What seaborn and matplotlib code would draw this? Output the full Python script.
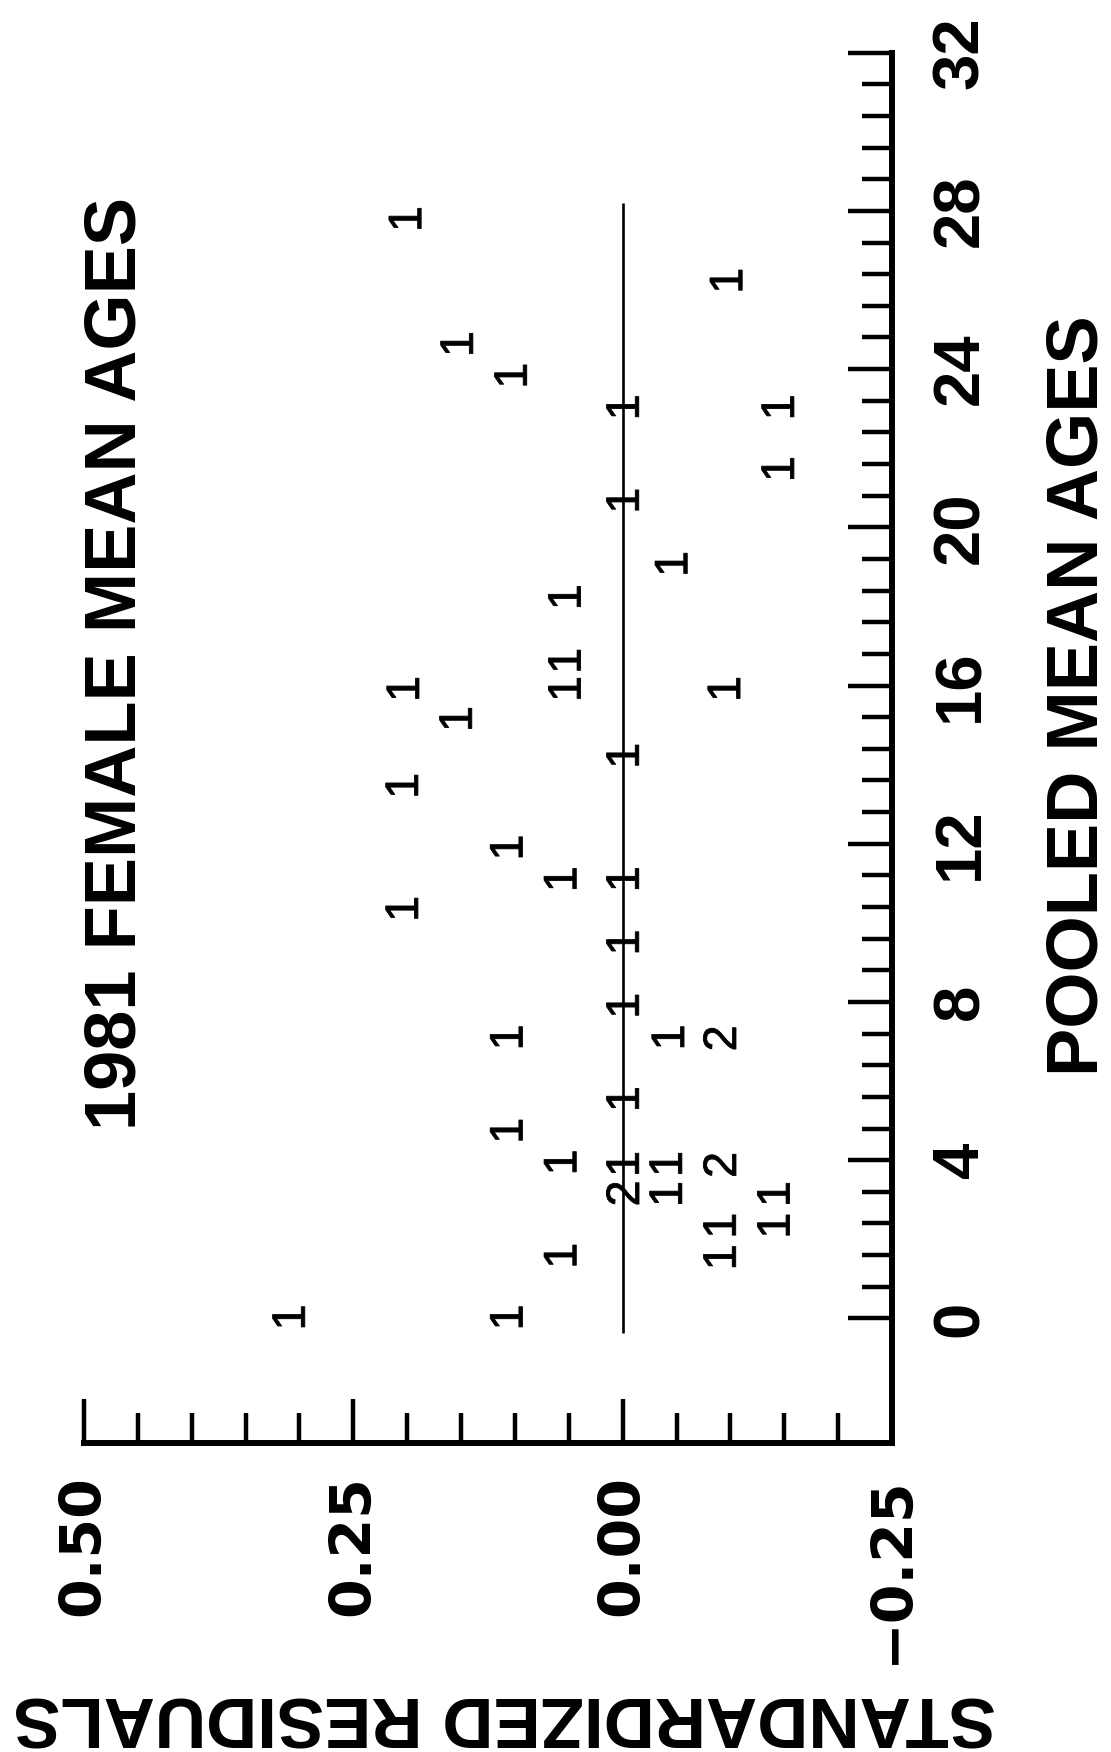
import numpy as np
import pandas as pd
import matplotlib
matplotlib.use("Agg")
import matplotlib.pyplot as plt
import seaborn as sns
from matplotlib.textpath import TextPath
from matplotlib.font_manager import FontProperties
from matplotlib.markers import MarkerStyle
from matplotlib.transforms import Affine2D
from matplotlib.path import Path

# ---------------- data ----------------
resid = [0.31, 0.108, 0.058, -0.09, -0.09, -0.14, -0.14, 0.0, -0.04, -0.04,
         0.0, 0.058, -0.09, 0.108, 0.0, 0.108, -0.042, -0.09, 0.0, 0.0,
         0.205, 0.0, 0.058, 0.108, 0.205, 0.0, 0.155, 0.204, -0.094, 0.054,
         0.054, 0.054, -0.045, 0.0, -0.144, 0.0, -0.144, 0.104, 0.154, -0.096,
         0.202]
age = [0.04, 0.04, 1.60, 1.56, 2.36, 2.36, 3.16, 3.16, 3.16, 3.92,
       3.92, 3.96, 3.88, 4.76, 5.56, 7.12, 7.12, 7.08, 7.92, 9.52,
       10.37, 11.12, 11.12, 11.92, 13.48, 14.24, 15.17, 15.93, 15.93, 15.93,
       16.64, 18.25, 19.09, 20.69, 21.49, 23.05, 23.05, 23.85, 24.65, 26.25,
       27.81]
count = [1, 1, 1, 1, 1, 1, 1, 2, 1, 1,
         1, 1, 2, 1, 1, 1, 1, 2, 1, 1,
         1, 1, 1, 1, 1, 1, 1, 1, 1, 1,
         1, 1, 1, 1, 1, 1, 1, 1, 1, 1,
         1]

zero_line_resid = [0.0, 0.0]
zero_line_age = [-0.36, 28.2]

resid_ticks = [0.50, 0.25, 0.00, -0.25]
resid_tick_labels = ["0.50", "0.25", "0.00", "\u22120.25"]
age_ticks = [0, 4, 8, 12, 16, 20, 24, 28, 32]
age_tick_labels = ["0", "4", "8", "12", "16", "20", "24", "28", "32"]

title_text = "1981 FEMALE MEAN AGES"
age_axis_label = "POOLED MEAN AGES"
resid_axis_label = "STANDARDIZED RESIDUALS"

# ---------------- styling ----------------
sns.set_theme(style="white")
plt.rcParams["font.family"] = ["Liberation Sans", "DejaVu Sans"]

W, H = 1111, 1752
fig = plt.figure(figsize=(W / 100, H / 100), dpi=100)
fig.patch.set_facecolor("white")

x_left, x_right = 84, 892          # pixel x of resid 0.50 and -0.25
y_top, y_bot = 52.7, 1443          # pixel y of age 32 and bottom spine
ax = fig.add_axes([x_left / W, 1 - y_bot / H, (x_right - x_left) / W, (y_bot - y_top) / H])
ax.set_facecolor("white")


def glyph_marker(ch):
    fp = FontProperties(family="Liberation Sans")
    tp = TextPath((0, 0), ch, size=1, prop=fp)
    tp = tp.transformed(Affine2D().rotate_deg(90))
    ext = tp.get_extents()
    tp = tp.transformed(Affine2D().translate(-(ext.x0 + ext.x1) / 2, -(ext.y0 + ext.y1) / 2))
    # invisible anchor vertex so all glyphs share the same normalisation
    verts = np.vstack([[[0.5, 0.0]], tp.vertices])
    codes = np.concatenate([[Path.MOVETO], tp.codes])
    return MarkerStyle(Path(verts, codes))


df = pd.DataFrame({"resid": resid, "age": age, "count": [str(c) for c in count]})

ax.plot(zero_line_resid, zero_line_age, color="black", lw=1.9, solid_capstyle="butt", zorder=2)

sns.scatterplot(data=df, x="resid", y="age", style="count",
                markers={"1": glyph_marker("1"), "2": glyph_marker("2")},
                s=1136, color="black", edgecolor="black", linewidth=0.6,
                legend=False, ax=ax, zorder=3)

ax.set_xlim(0.5, -0.25)
ax.set_ylim(-3.15, 32)
ax.set_xlabel("")
ax.set_ylabel("")
ax.grid(False)

for side in ["top", "left"]:
    ax.spines[side].set_visible(False)
for side in ["bottom", "right"]:
    ax.spines[side].set_linewidth(4.3)
    ax.spines[side].set_color("black")
    ax.spines[side].set_capstyle("projecting")

# residual axis (bottom)
ax.set_xticks(resid_ticks, labels=resid_tick_labels)
minor_r = [v for v in np.round(np.arange(-0.25, 0.5001, 0.05), 2) if v not in resid_ticks]
ax.set_xticks(minor_r, minor=True)
ax.tick_params(axis="x", which="both", direction="in", bottom=True, top=False,
               width=3.2, color="black")
ax.tick_params(axis="x", which="major", length=32, pad=23, labelsize=41,
               labelrotation=90, labelcolor="black")
ax.tick_params(axis="x", which="minor", length=21.5)
for lab in ax.get_xticklabels():
    lab.set_family(["DejaVu Sans"])
    lab.set_fontweight("bold")

# age axis (right)
ax.yaxis.tick_right()
ax.set_yticks(age_ticks, labels=age_tick_labels)
minor_a = [v for v in np.round(np.arange(0, 32.001, 0.8), 2) if v not in age_ticks]
ax.set_yticks(minor_a, minor=True)
ax.tick_params(axis="y", which="both", direction="in", left=False, right=True,
               width=3.2, color="black")
ax.tick_params(axis="y", which="major", length=32, pad=28, labelsize=47,
               labelrotation=90, labelcolor="black")
ax.tick_params(axis="y", which="minor", length=21.5)
for lab in ax.get_yticklabels():
    lab.set_family(["Liberation Sans"])
    lab.set_fontweight("bold")
    lab.set_va("center")

# titles
fig.text(117 / W, 1 - 663 / H, title_text, rotation=90, ha="center", va="center",
         fontsize=52, fontweight="bold", family=["Liberation Sans"], color="black")
fig.text(1078 / W, 1 - 696 / H, age_axis_label, rotation=90, ha="center", va="center",
         fontsize=52, fontweight="bold", family=["Liberation Sans"], color="black")
fig.text(505 / W, 1 - 1714 / H, resid_axis_label, rotation=180, ha="center", va="center",
         fontsize=51, fontweight="bold", family=["Liberation Sans"], color="black")

fig.savefig("out.png", dpi=100, facecolor="white")
